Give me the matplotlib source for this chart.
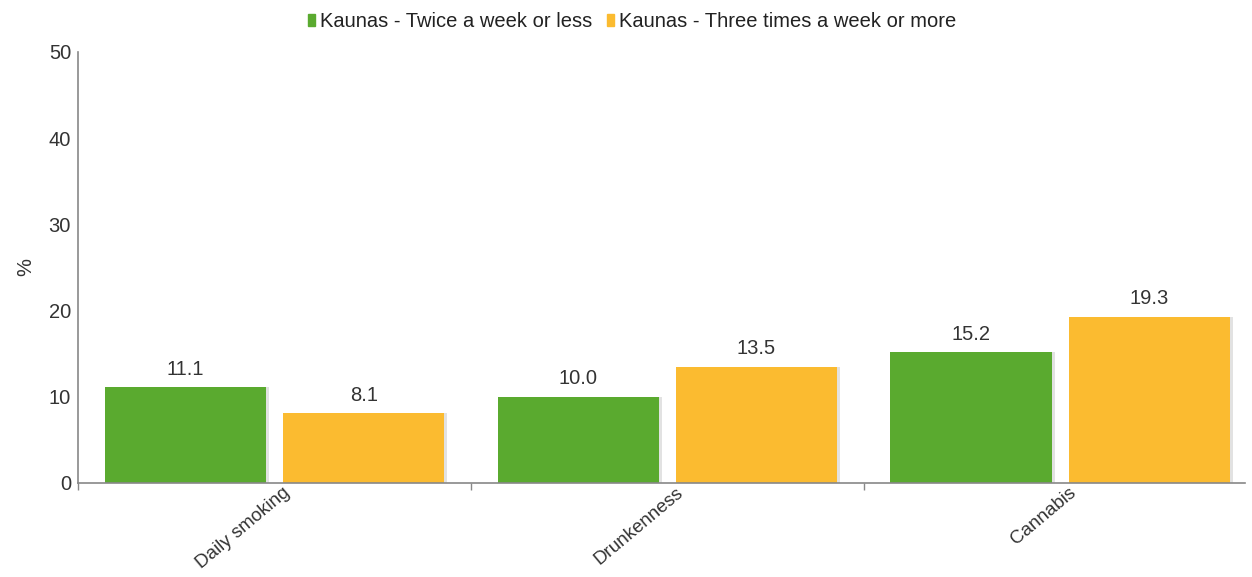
import numpy as np
import matplotlib
matplotlib.use('agg')
from matplotlib import pyplot as plt
from matplotlib.patches import Rectangle

# data
categories = ['Daily smoking', 'Drunkenness', 'Cannabis']
series_names = ['Kaunas - Twice a week or less', 'Kaunas - Three times a week or more']
twice_or_less = [11.1, 10.0, 15.2]
three_or_more = [8.1, 13.5, 19.3]
value_labels_a = ['11.1', '10.0', '15.2']
value_labels_b = ['8.1', '13.5', '19.3']
yticks = [0, 10, 20, 30, 40, 50]

GREEN = '#5aaa2f'
ORANGE = '#fbbb30'
AXIS = '#888888'
TXT = '#333333'
FS = 14.5

plt.rcParams['font.family'] = ['Liberation Sans', 'DejaVu Sans']

fig = plt.figure(figsize=(12.52, 5.77), dpi=100)
ax = fig.add_axes([0.0623, 0.163, 0.932, 0.747])

x = np.arange(len(categories))
w = 0.41
off = 0.227

# faint shadow at right of each bar
ax.bar(x - off + 0.008, twice_or_less, w, color='#e2e2e2', zorder=1)
ax.bar(x + off + 0.008, three_or_more, w, color='#e2e2e2', zorder=1)
ax.bar(x - off, twice_or_less, w, color=GREEN, zorder=2)
ax.bar(x + off, three_or_more, w, color=ORANGE, zorder=2)

for i in range(len(categories)):
    ax.annotate(value_labels_a[i], (x[i] - off, twice_or_less[i]), xytext=(0, 6),
                textcoords='offset points', ha='center', va='bottom', fontsize=FS, color=TXT)
    ax.annotate(value_labels_b[i], (x[i] + off, three_or_more[i]), xytext=(0, 6),
                textcoords='offset points', ha='center', va='bottom', fontsize=FS, color=TXT)

ax.set_xlim(-0.5, 2.47)
ax.set_ylim(0, 50)
ax.set_yticks(yticks)
ax.set_yticklabels([str(t) for t in yticks], fontsize=FS, color=TXT)
ax.tick_params(axis='y', length=0, pad=5)

ax.set_xticks(x + 0.02)
ax.set_xticklabels(categories, rotation=40, ha='right', va='top',
                   rotation_mode='anchor', fontsize=13.5, color=TXT)
ax.tick_params(axis='x', length=0, pad=1)
ax.set_xticks([-0.5, 0.5, 1.5], minor=True)
ax.tick_params(axis='x', which='minor', length=5, color=AXIS, width=1)

ax.set_ylabel('%', fontsize=FS, color=TXT, labelpad=10)

for s in ['top', 'right']:
    ax.spines[s].set_visible(False)
for s in ['left', 'bottom']:
    ax.spines[s].set_color(AXIS)
    ax.spines[s].set_linewidth(1.2)

handles = [Rectangle((0, 0), 1, 1, color=GREEN), Rectangle((0, 0), 1, 1, color=ORANGE)]
fig.legend(handles, series_names, loc='center', bbox_to_anchor=(0.505, 0.962), ncol=2,
           frameon=False, fontsize=FS, handlelength=0.35, handleheight=0.55,
           handletextpad=0.25, columnspacing=0.7, labelcolor='#222222')

fig.savefig('out.png', dpi=100)
